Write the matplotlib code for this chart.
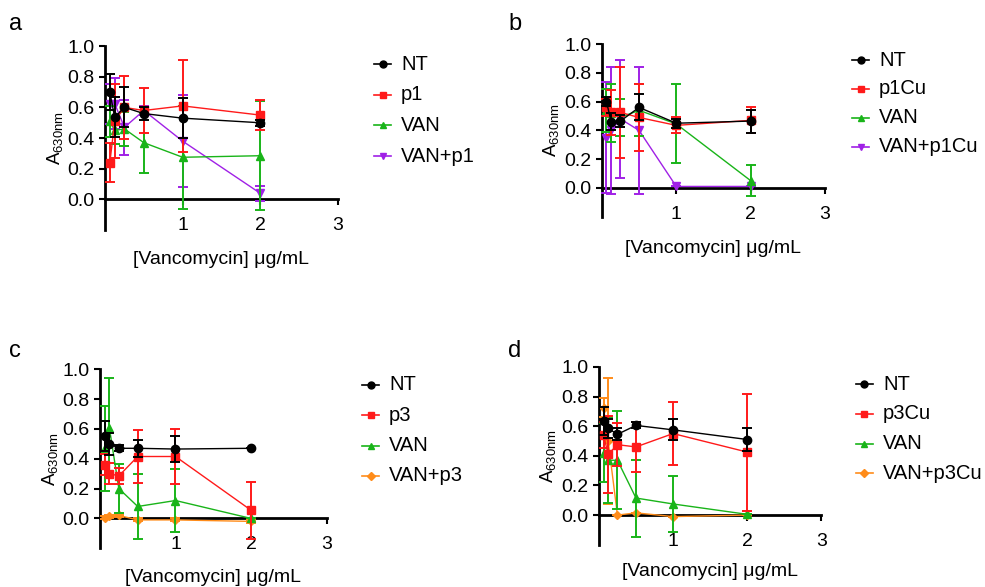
import matplotlib
matplotlib.use("Agg")
import matplotlib.pyplot as plt
from matplotlib.lines import Line2D

plt.rcParams['font.family'] = ['Liberation Sans', 'DejaVu Sans']

# vancomycin concentrations (ug/mL)
conc = [0.0625, 0.125, 0.25, 0.5, 1, 2]

# panel a
a_labels = ['NT', 'p1', 'VAN', 'VAN+p1']
a_mean = [[0.70, 0.535, 0.60, 0.56, 0.53, 0.50],
          [0.24, 0.51, 0.60, 0.58, 0.61, 0.55],
          [0.51, 0.45, 0.46, 0.37, 0.275, 0.285],
          [0.625, 0.625, 0.47, 0.58, 0.38, 0.04]]
a_err = [[0.12, 0.13, 0.13, 0.04, 0.13, 0.02],
         [0.125, 0.24, 0.205, 0.145, 0.30, 0.10],
         [0.10, 0.09, 0.11, 0.195, 0.335, 0.355],
         [0.13, 0.165, 0.18, 0.03, 0.30, 0.05]]

# panel b
b_labels = ['NT', 'p1Cu', 'VAN', 'VAN+p1Cu']
b_mean = [[0.60, 0.46, 0.465, 0.56, 0.45, 0.465],
          [0.56, 0.525, 0.525, 0.49, 0.435, 0.47],
          [0.54, 0.52, 0.49, 0.54, 0.445, 0.05],
          [0.35, 0.40, 0.48, 0.40, 0.01, 0.01]]
b_err = [[0.03, 0.06, 0.04, 0.09, 0.03, 0.08],
         [0.06, 0.155, 0.315, 0.235, 0.055, 0.09],
         [0.15, 0.20, 0.13, 0.18, 0.275, 0.11],
         [0.385, 0.44, 0.41, 0.44, 0.0, 0.0]]

# panel c
c_labels = ['NT', 'p3', 'VAN', 'VAN+p3']
c_mean = [[0.55, 0.50, 0.47, 0.47, 0.465, 0.47],
          [0.36, 0.30, 0.285, 0.415, 0.415, 0.055],
          [0.47, 0.605, 0.20, 0.08, 0.12, 0.0],
          [0.005, 0.015, 0.02, -0.01, -0.01, -0.02]]
c_err = [[0.10, 0.075, 0.02, 0.055, 0.09, 0.0],
         [0.07, 0.07, 0.055, 0.18, 0.185, 0.19],
         [0.285, 0.335, 0.165, 0.215, 0.21, 0.0],
         [0.01, 0.01, 0.01, 0.01, 0.01, 0.01]]

# panel d
d_labels = ['NT', 'p3Cu', 'VAN', 'VAN+p3Cu']
d_mean = [[0.635, 0.585, 0.545, 0.605, 0.575, 0.51],
          [0.54, 0.41, 0.475, 0.46, 0.55, 0.425],
          [0.42, 0.37, 0.37, 0.115, 0.075, 0.005],
          [0.725, 0.50, 0.0, 0.015, -0.01, 0.0]]
d_err = [[0.095, 0.065, 0.04, 0.02, 0.07, 0.08],
         [0.09, 0.26, 0.145, 0.17, 0.215, 0.395],
         [0.20, 0.29, 0.33, 0.26, 0.19, 0.0],
         [0.065, 0.425, 0.0, 0.0, 0.0, 0.0]]

colors_pep = ['black', '#ff1a1a', '#19b419', '#a020e6']
colors_pep3 = ['black', '#ff1a1a', '#19b419', '#ff8c1a']
markers = ['o', 's', '^', 'v']
markers3 = ['o', 's', '^', 'D']

W, H = 985, 587


def draw_legend(fig, x_px, y_px, step_px, labels, colors, mks):
    # legend drawn in pixel positions: x_px = handle left edge, y_px = first row centre
    for i, lab in enumerate(labels):
        y = 1 - (y_px + i * step_px) / H
        x0 = x_px / W
        x1 = (x_px + 17) / W
        fig.add_artist(Line2D([x0, x1], [y, y], color=colors[i], lw=1.2,
                              transform=fig.transFigure))
        ms = 5 if mks[i] != 'D' else 4
        fig.add_artist(Line2D([(x0 + x1) / 2], [y], color=colors[i], marker=mks[i],
                              markersize=ms, transform=fig.transFigure))
        fig.text((x_px + 27) / W, y, lab, fontsize=14.5, ha='left', va='center')


def draw_panel(fig, rect, letter, letter_pos, labels, means, errs, colors, mks, leg, xpad):
    ax = fig.add_axes(rect)
    for i in range(len(labels)):
        ms = 6 if mks[i] != 'D' else 4.5
        ax.errorbar(conc, means[i], yerr=errs[i], color=colors[i],
                    marker=mks[i], markersize=ms, linewidth=1.0,
                    elinewidth=1.4, capsize=3.5, capthick=1.4,
                    zorder=10 - i, clip_on=False)
    ax.set_xlim(0, 3)
    ax.set_ylim(-0.2, 1.0)
    ax.spines['top'].set_visible(False)
    ax.spines['right'].set_visible(False)
    ax.spines['bottom'].set_position(('data', 0))
    ax.spines['bottom'].set_linewidth(2)
    ax.spines['left'].set_linewidth(2)
    ax.set_xticks([1, 2, 3])
    ax.set_yticks([0.0, 0.2, 0.4, 0.6, 0.8, 1.0])
    ax.set_yticklabels(['0.0', '0.2', '0.4', '0.6', '0.8', '1.0'])
    ax.tick_params(axis='both', labelsize=14, width=1.5, length=4)
    ax.tick_params(axis='x', pad=9)
    ax.set_ylabel(r'$\mathregular{A_{630nm}}$', fontsize=13.5, labelpad=2)
    ax.set_xlabel('[Vancomycin] μg/mL', fontsize=14, labelpad=xpad)
    fig.text(letter_pos[0], letter_pos[1], letter, fontsize=17, ha='left', va='center')
    draw_legend(fig, leg[0], leg[1], leg[2], labels, colors, mks)
    return ax


fig = plt.figure(figsize=(9.85, 5.87), dpi=100)

draw_panel(fig, [0.1066, 0.608, 0.2365, 0.3135], 'a', (0.009, 0.959),
           a_labels, a_mean, a_err, colors_pep, markers, (374, 64, 30.7), 12)
draw_panel(fig, [0.611, 0.631, 0.2267, 0.2937], 'b', (0.516, 0.959),
           b_labels, b_mean, b_err, colors_pep, markers, (852, 60, 28.9), 12)
draw_panel(fig, [0.1015, 0.066, 0.230, 0.305], 'c', (0.009, 0.402),
           c_labels, c_mean, c_err, colors_pep3, markers3, (362, 385, 30.3), 11)
draw_panel(fig, [0.608, 0.072, 0.226, 0.303], 'd', (0.516, 0.402),
           d_labels, d_mean, d_err, colors_pep3, markers3, (856, 384, 29.8), 9)

fig.savefig('out.png', dpi=100, facecolor='white')
